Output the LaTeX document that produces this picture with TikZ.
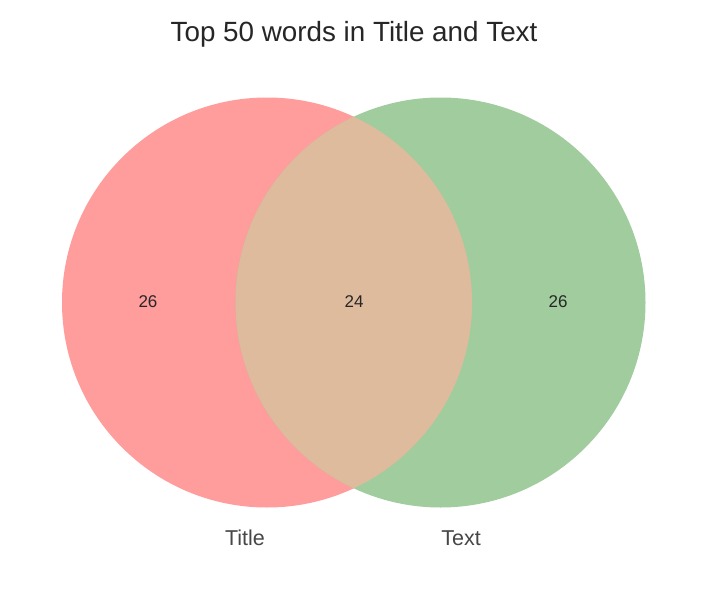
\documentclass[tikz,border=0pt]{standalone}
\usepackage{fontspec}
\setmainfont{Liberation Sans}
\definecolor{vpink}{RGB}{255,156,156}
\definecolor{vgreen}{RGB}{160,204,158}
\definecolor{vmix}{RGB}{223,187,157}
\definecolor{txtgray}{RGB}{38,38,38}
\begin{document}
\begin{tikzpicture}[x=1pt,y=-1pt,
  numlabel/.style={font=\fontsize{17}{17}\selectfont, text=txtgray, inner sep=0pt},
  setlabel/.style={font=\fontsize{21.5}{21.5}\selectfont, text=txtgray!85!white, inner sep=0pt},
  titlelabel/.style={font=\fontsize{27.8}{27.8}\selectfont, text=txtgray, inner sep=0pt}]
\useasboundingbox (0,0) rectangle (720,602);
\fill[white] (0,0) rectangle (720,602);
\coordinate (cl) at (267,302.5);
\coordinate (cr) at (440.5,302.5);
\fill[vpink] (cl) circle[radius=205];
\fill[vgreen] (cr) circle[radius=205];
\begin{scope}
  \clip (cl) circle[radius=205];
  \fill[vmix] (cr) circle[radius=205];
\end{scope}
\node[numlabel] (nleft) at (148,302) {26};
\node[numlabel] (nmid) at (354,302) {24};
\node[numlabel] (nright) at (558,302) {26};
\node[setlabel] (ltitle) at (245,538) {Title};
\node[setlabel] (ltext) at (461,538) {Text};
\node[titlelabel] (maintitle) at (354,34) {Top 50 words in Title and Text};
\end{tikzpicture}
\end{document}
